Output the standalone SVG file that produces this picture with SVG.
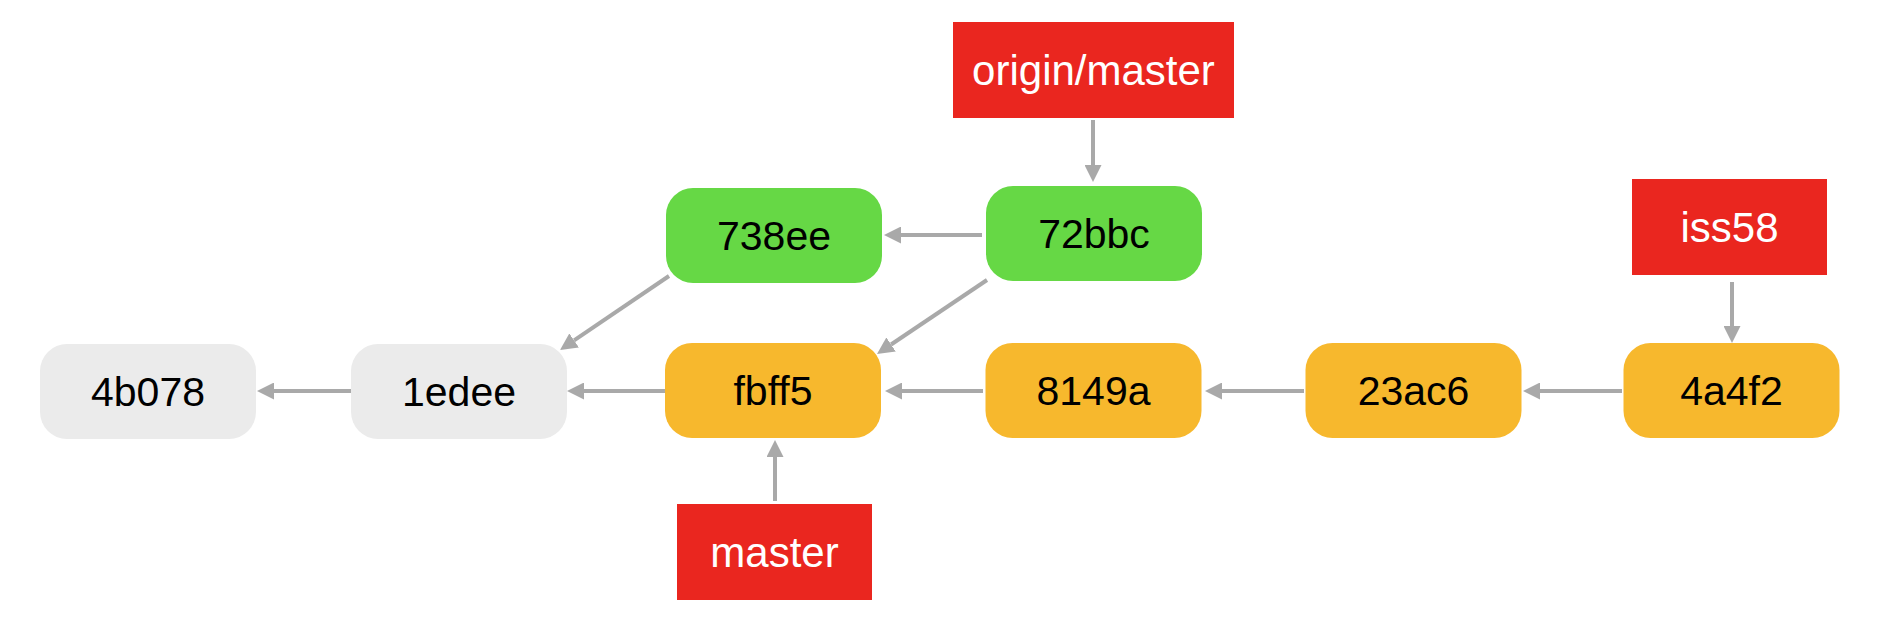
<svg xmlns="http://www.w3.org/2000/svg" width="1880" height="628" viewBox="0 0 1880 628">
  <style>
    .commit rect { rx: 27px; ry: 27px; }
    .gray rect { fill: #ebebeb; }
    .green rect { fill: #66d845; }
    .orange rect { fill: #f7b82d; }
    .ref rect { fill: #ea261f; }
    text { font-family: "Liberation Sans", Arial, Helvetica, sans-serif; font-size: 41px; text-anchor: middle; }
    .commit text { fill: #000000; }
    .ref text { fill: #ffffff; font-size: 42px; }
    .edges line { stroke: #a9a9a9; stroke-width: 4; fill: none; marker-end: url(#arrow); }
  </style>
  <defs>
    <marker id="arrow" markerUnits="userSpaceOnUse" markerWidth="17" markerHeight="17" refX="0" refY="8.5" orient="auto">
      <path d="M0,0 L17,8.5 L0,17 Z" fill="#a9a9a9"/>
    </marker>
  </defs>
  <rect width="1880" height="628" fill="#ffffff"/>

  <g class="edges" id="connectors">
    <line x1="351" y1="391" x2="274" y2="391"/>
    <line x1="665" y1="391" x2="584" y2="391"/>
    <line x1="983" y1="391" x2="902" y2="391"/>
    <line x1="1304" y1="391" x2="1222" y2="391"/>
    <line x1="1622" y1="391" x2="1540" y2="391"/>
    <line x1="982" y1="235" x2="901" y2="235"/>
    <line x1="987" y1="280" x2="891.1" y2="344.5"/>
    <line x1="669" y1="276" x2="574.1" y2="340.4"/>
    <line x1="1093" y1="120" x2="1093" y2="165"/>
    <line x1="1732" y1="282" x2="1732" y2="326"/>
    <line x1="775" y1="501" x2="775" y2="457"/>
  </g>

  <g id="n4b078" class="commit gray">
    <rect x="40" y="344" width="216" height="95"/>
    <text x="148" y="406">4b078</text>
  </g>
  <g id="n1edee" class="commit gray">
    <rect x="351" y="344" width="216" height="95"/>
    <text x="459" y="406">1edee</text>
  </g>
  <g id="nfbff5" class="commit orange">
    <rect x="665" y="343" width="216" height="95"/>
    <text x="773" y="405">fbff5</text>
  </g>
  <g id="n8149a" class="commit orange">
    <rect x="985.5" y="343" width="216" height="95"/>
    <text x="1093.5" y="405">8149a</text>
  </g>
  <g id="n23ac6" class="commit orange">
    <rect x="1305.5" y="343" width="216" height="95"/>
    <text x="1413.5" y="405">23ac6</text>
  </g>
  <g id="n4a4f2" class="commit orange">
    <rect x="1623.5" y="343" width="216" height="95"/>
    <text x="1731.5" y="405">4a4f2</text>
  </g>
  <g id="n738ee" class="commit green">
    <rect x="666" y="188" width="216" height="95"/>
    <text x="774" y="250">738ee</text>
  </g>
  <g id="n72bbc" class="commit green">
    <rect x="986" y="186" width="216" height="95"/>
    <text x="1094" y="248">72bbc</text>
  </g>

  <g id="ref-origin-master" class="ref">
    <rect x="953" y="22" width="281" height="96"/>
    <text x="1093.5" y="85">origin/master</text>
  </g>
  <g id="ref-iss58" class="ref">
    <rect x="1632" y="179" width="195" height="96"/>
    <text x="1729.5" y="242">iss58</text>
  </g>
  <g id="ref-master" class="ref">
    <rect x="677" y="504" width="195" height="96"/>
    <text x="774.5" y="567">master</text>
  </g>
</svg>
